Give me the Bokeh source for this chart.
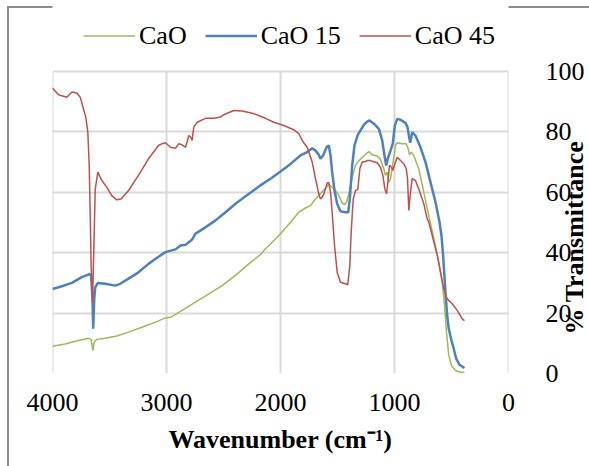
import math
from bokeh.plotting import figure
from bokeh.models import Range1d, Legend, LegendItem, FixedTicker, Label
from bokeh.embed import file_html
from bokeh.resources import INLINE

# ---- data ----
cao_wn = [4000, 3889, 3772, 3684, 3661, 3646, 3634, 3611, 3538, 3436, 3333, 3216, 3096, 3009, 2965,
          2863, 2746, 2629, 2512, 2395, 2278, 2175, 2132, 2088, 2000, 1912, 1839, 1781, 1737, 1693,
          1649, 1605, 1576, 1547, 1518, 1488, 1459, 1439, 1421, 1401, 1371, 1342, 1313, 1269, 1240,
          1225, 1196, 1152, 1123, 1094, 1079, 1064, 1050, 1035, 1015, 991, 976, 932, 897, 880, 868,
          854, 831, 787, 743, 699, 655, 611, 582, 561, 544, 524, 500, 465, 421, 386]
cao_t = [9.0, 9.8, 10.9, 11.7, 11.3, 7.6, 10.4, 11.3, 11.7, 12.4, 13.7, 15.3, 17.0, 18.4, 18.6,
         20.9, 23.6, 26.4, 29.1, 32.5, 36.3, 39.4, 41.3, 42.9, 46.3, 50.1, 53.4, 54.8, 55.6, 57.8,
         59.5, 61.4, 62.5, 61.7, 60.6, 58.9, 56.5, 55.9, 56.7, 59.5, 65.0, 68.9, 70.5, 72.0, 73.1,
         73.5, 72.4, 72.0, 70.9, 67.8, 65.6, 66.7, 63.3, 64.5, 69.4, 75.5, 76.4, 76.1, 76.1, 74.4, 72.4,
         73.3, 72.2, 67.8, 60.0, 52.3, 44.6, 36.9, 30.2, 22.5, 13.7, 6.0, 2.6, 1.0, 0.4, 0.4]

cao15_wn = [4000, 3918, 3830, 3743, 3669, 3661, 3649, 3643, 3634, 3625, 3602, 3538, 3450, 3406, 3333,
            3246, 3158, 3096, 3009, 2921, 2877, 2833, 2775, 2746, 2658, 2570, 2482, 2395, 2307, 2219,
            2175, 2132, 2088, 2000, 1912, 1825, 1766, 1722, 1693, 1664, 1649, 1626, 1596, 1576, 1561,
            1547, 1526, 1503, 1474, 1430, 1406, 1392, 1371, 1351, 1322, 1298, 1269, 1240, 1219, 1181,
            1137, 1108, 1088, 1073, 1059, 1035, 1015, 997, 976, 947, 904, 886, 874, 862, 845, 816, 772,
            728, 684, 640, 605, 588, 576, 564, 553, 538, 524, 500, 480, 459, 430, 386]
cao15_t = [28.0, 28.9, 30.0, 31.9, 33.0, 32.2, 24.7, 14.8, 24.7, 28.6, 30.0, 29.7, 29.1, 29.7, 31.4,
           33.5, 36.3, 38.0, 40.2, 41.1, 42.4, 42.6, 44.4, 46.3, 48.4, 50.7, 53.4, 56.2, 58.7, 61.1,
           62.3, 63.4, 64.5, 66.9, 69.4, 72.2, 73.3, 74.6, 73.8, 72.4, 71.1, 72.2, 74.9, 75.5, 72.2,
           66.7, 60.6, 56.2, 53.7, 53.4, 53.4, 57.8, 68.9, 75.5, 79.0, 80.5, 82.3, 83.4, 83.8, 82.7,
           81.0, 77.2, 72.2, 68.9, 71.1, 73.8, 76.1, 82.1, 84.3, 84.0, 83.0, 81.6, 78.8, 76.4, 79.9, 78.8, 74.9,
           70.0, 63.3, 56.7, 50.1, 45.7, 40.2, 33.5, 26.9, 19.2, 14.8, 10.9, 8.2, 4.9, 2.9, 1.8]

cao45_wn = [4000, 3947, 3874, 3830, 3787, 3757, 3728, 3708, 3690, 3678, 3669, 3661, 3649, 3634, 3625,
            3602, 3567, 3524, 3480, 3436, 3398, 3333, 3246, 3158, 3070, 3038, 3009, 2965, 2921, 2892,
            2863, 2833, 2804, 2789, 2775, 2761, 2731, 2658, 2585, 2526, 2497, 2410, 2336, 2248, 2175,
            2132, 2059, 1971, 1883, 1839, 1810, 1796, 1766, 1722, 1693, 1664, 1649, 1634, 1620, 1590,
            1576, 1561, 1547, 1526, 1503, 1474, 1430, 1410, 1392, 1380, 1362, 1342, 1322, 1304, 1283,
            1254, 1240, 1211, 1196, 1152, 1123, 1102, 1085, 1070, 1055, 1044, 1026, 1015, 997, 976,
            947, 918, 897, 886, 874, 860, 845, 816, 787, 743, 713, 699, 669, 625, 596, 567, 538, 494,
            450, 406, 386]
cao45_t = [94.5, 92.3, 91.5, 93.2, 92.9, 91.5, 87.6, 84.9, 79.9, 68.9, 52.3, 35.8, 23.4, 46.8, 61.1,
           66.7, 63.9, 61.7, 58.9, 57.5, 57.8, 60.6, 65.6, 71.1, 75.5, 76.1, 76.4, 74.9, 74.6, 76.1,
           75.7, 74.9, 78.8, 78.3, 77.2, 81.6, 83.2, 84.5, 84.5, 84.9, 85.7, 87.1, 86.9, 86.2, 85.2,
           84.5, 83.2, 82.1, 80.7, 79.4, 77.2, 76.4, 74.9, 70.0, 64.5, 59.5, 57.8, 58.4, 59.5, 63.1,
           63.3, 60.0, 53.4, 42.4, 33.5, 30.2, 29.7, 29.4, 35.8, 46.8, 57.8, 60.6, 60.9, 67.8, 70.0,
           70.2, 70.5, 70.5, 70.3, 69.8, 68.3, 65.6, 61.1, 59.5, 64.5, 68.9, 68.3, 67.2, 69.4, 71.6,
           70.5, 69.4, 67.8, 64.5, 54.0, 60.0, 64.5, 63.9, 61.1, 56.2, 51.2, 50.1, 45.7, 39.1, 33.5, 28.0, 24.7, 23.1,
           20.9, 18.1, 17.5]

series_names = ["CaO", "CaO 15", "CaO 45"]
x_ticks = [4000, 3000, 2000, 1000, 0]
y_ticks = [0, 20, 40, 60, 80, 100]
x_title = "Wavenumber (cm\u207b\u00b9)"
y_title = "% Transmittance"

FONT = "Liberation Serif"
GRID = "#d9d9d9"
BORDER = "#8c8c8c"

# frame reaches up to the top of the canvas so the legend sits inside it;
# 100 % is 71 px below the top (3.02 px per %)
Y_TOP = 100 + 71 / 3.02

p = figure(width=589, height=466, output_backend="svg", toolbar_location=None,
           x_range=Range1d(4000, 0), y_range=Range1d(0, Y_TOP),
           y_axis_location="right",
           min_border_left=52, min_border_right=81, min_border_top=0, min_border_bottom=93)

p.background_fill_color = "white"
p.border_fill_alpha = 0
p.outline_line_color = None
# light grey chart-area border (left and top edges visible in the reference)
p.styles = {
    "background-color": "white",
    "background-image": f"linear-gradient({BORDER},{BORDER}), linear-gradient({BORDER},{BORDER})",
    "background-size": "2px 100%, 100% 2px",
    "background-position": "7px 6px, 7px 6px",
    "background-repeat": "no-repeat",
}

# vertical grid lines (only over the 0-100 % band)
p.xgrid.visible = False
p.segment(x0=x_ticks, y0=[y_ticks[0]] * len(x_ticks), x1=x_ticks, y1=[y_ticks[-1]] * len(x_ticks),
          line_color=GRID, line_width=2, level="underlay")
p.ygrid.ticker = FixedTicker(ticks=y_ticks)
p.ygrid.grid_line_color = GRID
p.ygrid.grid_line_width = 2

g = p.line(cao_wn, cao_t, line_color="#9BBB59", line_width=1.5)
b = p.line(cao15_wn, cao15_t, line_color="#4F81BD", line_width=2.5)
r = p.line(cao45_wn, cao45_t, line_color="#C0504D", line_width=1.5)

p.xaxis.ticker = FixedTicker(ticks=x_ticks)
p.yaxis.ticker = FixedTicker(ticks=y_ticks)

for ax in (p.xaxis[0], p.yaxis[0]):
    ax.axis_line_color = None
    ax.major_tick_line_color = None
    ax.minor_tick_line_color = None
    ax.major_label_text_font = FONT
    ax.major_label_text_font_size = "26px"
    ax.major_label_text_color = "black"
    ax.axis_label_text_font = FONT
    ax.axis_label_text_font_size = "26px"
    ax.axis_label_text_font_style = "bold"
    ax.axis_label_text_color = "black"

p.xaxis.axis_label = x_title
p.xaxis.major_label_standoff = 14
p.xaxis.axis_label_standoff = 11

yaxis = p.yaxis[0]

# rotated y title in the right-hand side panel, numeric y axis beside it
ylab = Label(x=66, y=136, x_units="screen", y_units="screen", text=y_title,
             angle=math.pi / 2, text_align="center", text_baseline="middle",
             text_font=FONT, text_font_size="26px", text_font_style="bold",
             text_color="black")
p.right = [ylab, yaxis]
yaxis.major_label_standoff = 2

legend = Legend(items=[LegendItem(label=series_names[0], renderers=[g]),
                       LegendItem(label=series_names[1], renderers=[b]),
                       LegendItem(label=series_names[2], renderers=[r])],
                orientation="horizontal", location=(31, 322),
                glyph_width=52, glyph_height=31, label_standoff=4, spacing=18,
                padding=0, margin=0, border_line_color=None, background_fill_alpha=0,
                label_text_font=FONT, label_text_font_size="26px", label_text_color="black")
p.add_layout(legend, "center")

open("out.html", "w").write(file_html(p, INLINE))
